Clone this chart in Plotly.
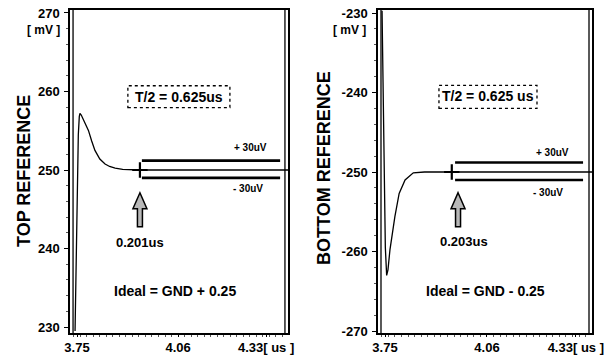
import plotly.graph_objects as go

# ---------------- data ----------------
# TOP REFERENCE waveform (time in us, level in mV)
top_t = [3.744, 3.750, 3.754, 3.757, 3.759, 3.763, 3.770, 3.777, 3.785, 3.795,
         3.805, 3.820, 3.836, 3.850, 3.867, 3.890, 3.943, 4.400]
top_v = [229.5, 247.0, 254.5, 256.8, 257.2, 257.0, 256.4, 255.8, 255.05, 253.7,
         252.5, 251.4, 250.76, 250.45, 250.25, 250.08, 250.0, 250.0]

# BOTTOM REFERENCE waveform
bot_t = [3.741, 3.747, 3.751, 3.755, 3.759, 3.765, 3.772, 3.780, 3.793, 3.811,
         3.836, 3.870, 3.953, 4.400]
bot_v = [-229.7, -250.0, -259.5, -263.0, -262.3, -259.8, -257.5, -255.6, -252.7,
         -251.0, -250.1, -250.0, -250.0, -250.0]

top_ideal = 250.0
bot_ideal = -250.0
band_hi = 1.2      # drawn (exaggerated) +30uV band line offset, mV
band_lo = -1.0     # drawn (exaggerated) -30uV band line offset, mV

top_settle_t = 3.943
bot_settle_t = 3.953
top_band_x = [3.949, 4.373]
bot_band_x = [3.963, 4.352]

x_tickvals = [3.75, 4.06, 4.33]
x_ticktext = ["3.75", "4.06", "4.33[ us ]"]
top_yticks = [230, 240, 250, 260, 270]
bot_yticks = [-270, -260, -250, -240, -230]

top_title = "TOP REFERENCE"
bot_title = "BOTTOM REFERENCE"
half_period_top = "T/2 = 0.625us"
half_period_bot = "T/2 = 0.625 us"
settle_top = "0.201us"
settle_bot = "0.203us"
ideal_top = "Ideal = GND + 0.25"
ideal_bot = "Ideal = GND - 0.25"

# ---------------- figure ----------------
# body margin is removed by post_script, so the figure fills the window
W, H = 611, 358
PX = lambda x: x / W          # window x px -> paper fraction
PY = lambda y: 1 - y / H      # window y px -> paper fraction

FONT = "Liberation Sans, Arial, sans-serif"
fig = go.Figure()

panels = [
    dict(xa="x", ya="y", t=top_t, v=top_v, ideal=top_ideal, st=top_settle_t,
         band=top_band_x),
    dict(xa="x2", ya="y2", t=bot_t, v=bot_v, ideal=bot_ideal, st=bot_settle_t,
         band=bot_band_x),
]
for p in panels:
    fig.add_trace(go.Scatter(x=p["t"], y=p["v"], mode="lines",
                             line=dict(color="black", width=1.3),
                             xaxis=p["xa"], yaxis=p["ya"], showlegend=False,
                             hoverinfo="skip"))
    for off in (band_hi, band_lo):
        fig.add_trace(go.Scatter(x=p["band"], y=[p["ideal"] + off] * 2,
                                 mode="lines", line=dict(color="black", width=2.6),
                                 xaxis=p["xa"], yaxis=p["ya"], showlegend=False,
                                 hoverinfo="skip"))
    fig.add_trace(go.Scatter(x=[p["st"]], y=[p["ideal"]], mode="markers",
                             marker=dict(symbol="cross-thin", size=11,
                                         line=dict(color="black", width=2.2)),
                             xaxis=p["xa"], yaxis=p["ya"], showlegend=False,
                             hoverinfo="skip"))

tickfont = dict(family=FONT, size=13, color="black", weight="bold")
common_x = dict(tickvals=x_tickvals, ticktext=x_ticktext, tickfont=tickfont,
                showline=True, linecolor="black", linewidth=1.5, mirror=True,
                ticks="outside", ticklen=2, tickcolor="black",
                minor=dict(ticks="outside", ticklen=2, dtick=0.02,
                           tickcolor="#555"),
                showgrid=False, zeroline=False, fixedrange=True,
                automargin=False, ticklabeloverflow="allow")
common_y = dict(tickfont=tickfont, showline=True, linecolor="black",
                linewidth=1.5, mirror=True, ticks="outside", ticklen=4,
                tickcolor="black", ticklabelstandoff=2,
                minor=dict(ticks="outside", ticklen=2, dtick=2, tickcolor="#555"),
                showgrid=False, zeroline=False, fixedrange=True,
                automargin=False, ticklabeloverflow="allow")

ydom = [PY(333), PY(10)]
fig.update_layout(
    width=W, height=H, margin=dict(l=0, r=0, t=0, b=0, autoexpand=False),
    paper_bgcolor="white", plot_bgcolor="white",
    font=dict(family=FONT, color="black"),
    xaxis=dict(domain=[PX(70), PX(288)], range=[3.7285, 4.3972], anchor="y",
               **common_x),
    yaxis=dict(domain=ydom, range=[229.24, 270.38], anchor="x",
               tickvals=top_yticks, ticktext=[str(v) for v in top_yticks],
               **common_y),
    xaxis2=dict(domain=[PX(378), PX(592)], range=[3.7287, 4.3792], anchor="y2",
                **common_x),
    yaxis2=dict(domain=ydom, range=[-270.25, -229.62], anchor="x2",
                tickvals=bot_yticks, ticktext=[str(v) for v in bot_yticks],
                **common_y),
)

ann = []
shapes = []
bold = lambda s: dict(family=FONT, size=s, color="black", weight="bold")

# axis titles and units
ann.append(dict(xref="paper", yref="paper", x=PX(24), y=PY(171),
                xanchor="center", yanchor="middle",
                text=top_title, textangle=-90, showarrow=False, font=bold(18)))
ann.append(dict(xref="paper", yref="paper", x=PX(324), y=PY(168),
                xanchor="center", yanchor="middle",
                text=bot_title, textangle=-90, showarrow=False, font=bold(18)))
for xr in (62, 368):
    ann.append(dict(xref="paper", yref="paper", x=PX(xr), y=PY(30),
                    xanchor="right", yanchor="middle", text="[ mV ]",
                    showarrow=False, font=bold(12)))

# per-panel annotations: (xref, yref, px/us, px/mV, ...)
specs = [
    dict(xr="x", yr="y", sx=326, sy=7.85, ideal=top_ideal,
         box=(3.906, 4.219, 257.95, 260.73), tx=4.063, ty=259.34,
         ttext=half_period_top, p30=(4.281, 252.9), m30=(4.275, 247.6),
         arrow=(3.943, 247.1), stext=(3.943, 240.8, settle_top),
         itext=(4.051, 234.6, ideal_top)),
    dict(xr="x2", yr="y2", sx=329, sy=7.95, ideal=bot_ideal,
         box=(3.914, 4.212, -242.0, -239.1), tx=4.063, ty=-240.5,
         ttext=half_period_bot, p30=(4.258, -247.6), m30=(4.245, -252.6),
         arrow=(3.972, -252.6), stext=(3.990, -258.8, settle_bot),
         itext=(4.054, -265.0, ideal_bot)),
]
for s in specs:
    x0, x1, y0, y1 = s["box"]
    shapes.append(dict(type="rect", xref=s["xr"], yref=s["yr"], x0=x0, x1=x1,
                       y0=y0, y1=y1, line=dict(color="black", width=1.3,
                                               dash="dot"),
                       fillcolor="white", layer="below"))
    ann.append(dict(xref=s["xr"], yref=s["yr"], x=s["tx"], y=s["ty"],
                    text=s["ttext"], showarrow=False, font=bold(14)))
    ann.append(dict(xref=s["xr"], yref=s["yr"], x=s["p30"][0], y=s["p30"][1],
                    text="+ 30uV", showarrow=False, font=bold(10)))
    ann.append(dict(xref=s["xr"], yref=s["yr"], x=s["m30"][0], y=s["m30"][1],
                    text="- 30uV", showarrow=False, font=bold(10)))
    ann.append(dict(xref=s["xr"], yref=s["yr"], x=s["stext"][0],
                    y=s["stext"][1], text=s["stext"][2], showarrow=False,
                    font=bold(13)))
    ann.append(dict(xref=s["xr"], yref=s["yr"], x=s["itext"][0],
                    y=s["itext"][1], text=s["itext"][2], showarrow=False,
                    font=bold(14)))
    # block arrow pointing up (sizes in px converted to data units)
    ax, ay = s["arrow"]
    dx = lambda px: px / s["sx"]
    dy = lambda px: px / s["sy"]
    pts = [(ax, ay), (ax + dx(7), ay - dy(16)), (ax + dx(2.5), ay - dy(16)),
           (ax + dx(2.5), ay - dy(34)), (ax - dx(2.5), ay - dy(34)),
           (ax - dx(2.5), ay - dy(16)), (ax - dx(7), ay - dy(16))]
    path = "M " + " L ".join(f"{px_},{py_}" for px_, py_ in pts) + " Z"
    shapes.append(dict(type="path", xref=s["xr"], yref=s["yr"], path=path,
                       fillcolor="#b8b8b8", line=dict(color="black", width=1.5)))
    # double border lines (inner) on left and right edges
    for xd in (0.014, 0.986):
        shapes.append(dict(type="line", xref=f"{s['xr']} domain",
                           yref=f"{s['yr']} domain", x0=xd, x1=xd, y0=0, y1=1,
                           line=dict(color="black", width=1.3)))

fig.update_layout(annotations=ann, shapes=shapes)
fig.write_html("out.html", config={"displayModeBar": False},
               post_script="document.body.style.margin='0';"
                           "document.body.style.overflow='hidden';")
